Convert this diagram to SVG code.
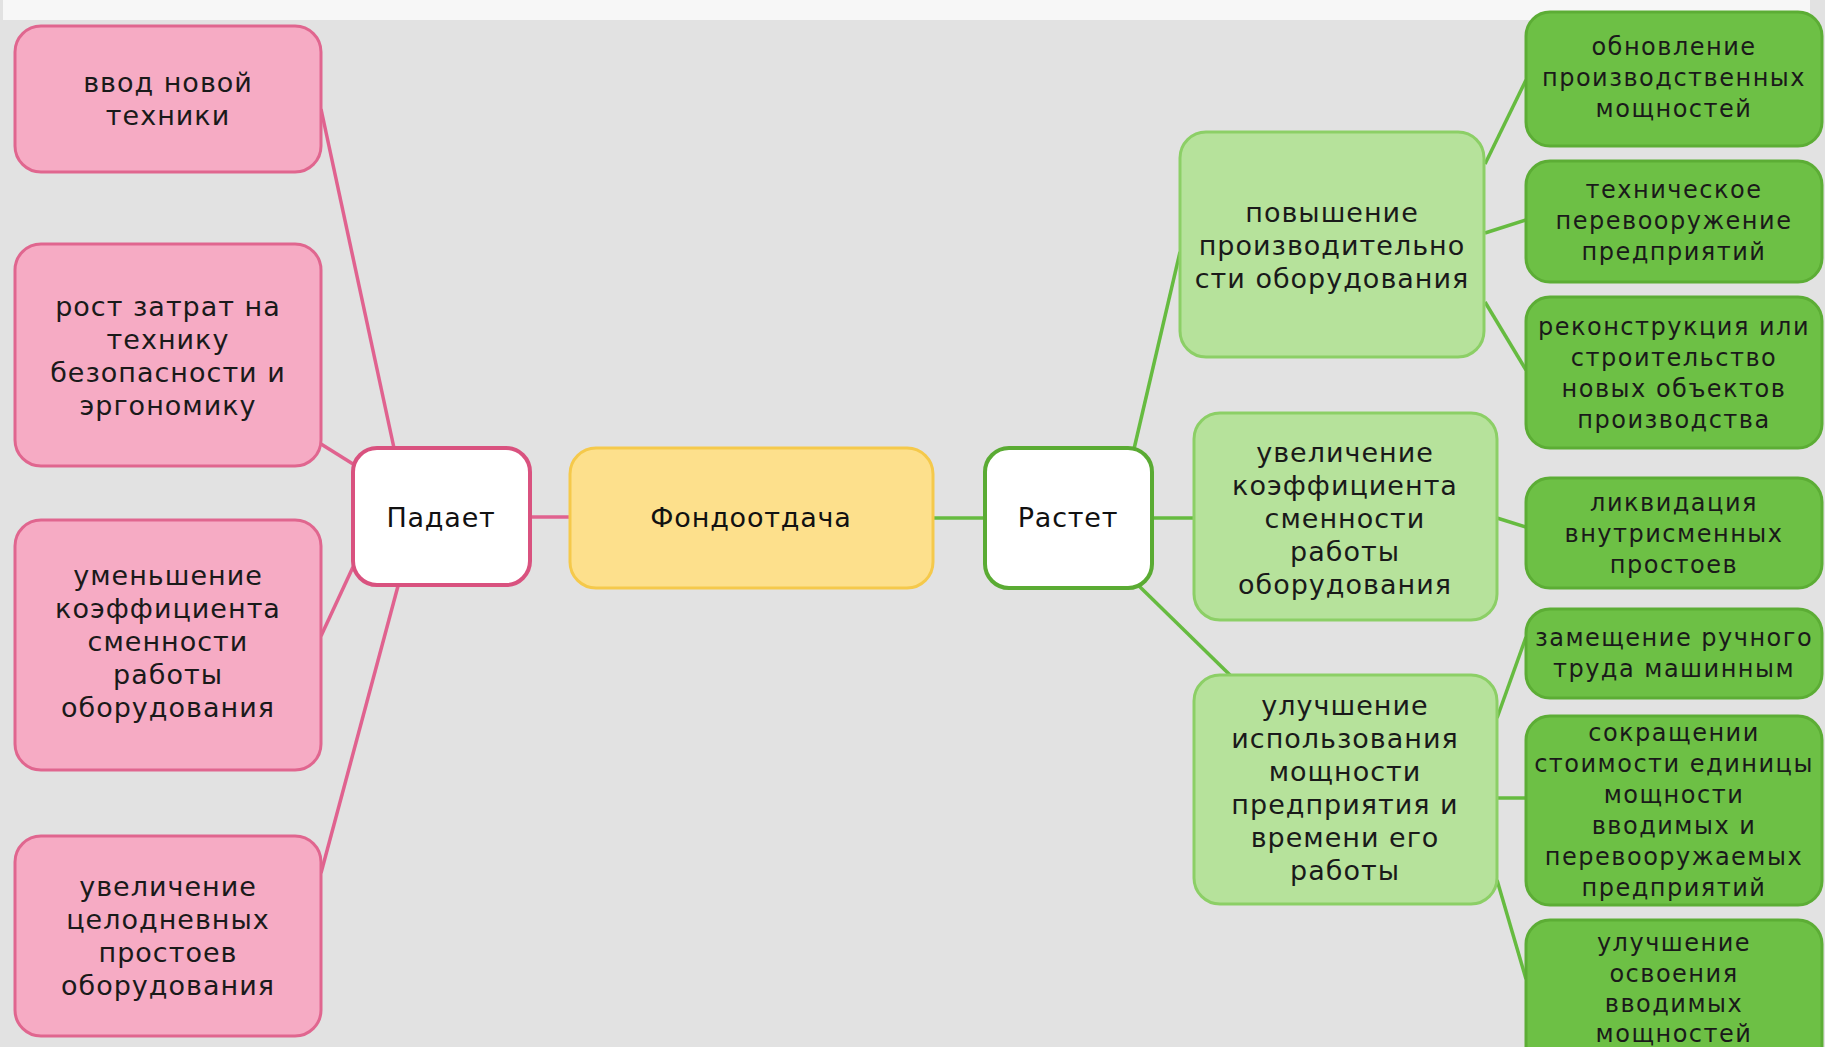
<svg xmlns="http://www.w3.org/2000/svg" width="1825" height="1047" viewBox="0 0 1825 1047">
<style>
text{font-family:"DejaVu Sans","Liberation Sans",sans-serif;fill:#1a1a1a;text-anchor:middle;dominant-baseline:central}
.t{font-size:27px;letter-spacing:1px}
.s{font-size:24px;letter-spacing:1.5px}
.c{font-size:27px;letter-spacing:0.8px;fill:#111}
.pink{fill:#f6abc4;stroke:#e0668f;stroke-width:3}
.padaet{fill:#ffffff;stroke:#d9527f;stroke-width:4}
.fond{fill:#fde08c;stroke:#f5c94b;stroke-width:3}
.rastet{fill:#ffffff;stroke:#5aab33;stroke-width:4}
.mid{fill:#b6e29b;stroke:#8ccf66;stroke-width:3}
.leaf{fill:#6dc045;stroke:#5cad35;stroke-width:3}
.lp{stroke:#e0628f;stroke-width:3.5;fill:none}
.lg{stroke:#66bb40;stroke-width:3.5;fill:none}
</style>
<rect x="0" y="0" width="1825" height="1047" fill="#e2e2e2"/>
<rect x="3" y="0" width="1807" height="20" fill="#f7f7f7"/>
<g id="connectors">
<line class="lp" x1="394" y1="448" x2="321" y2="109"/>
<line class="lp" x1="353" y1="464" x2="321" y2="444"/>
<line class="lp" x1="353" y1="567" x2="321" y2="636"/>
<line class="lp" x1="398" y1="586" x2="321" y2="873"/>
<line class="lp" x1="530" y1="517" x2="570" y2="517"/>
<line class="lg" x1="933" y1="518" x2="985" y2="518"/>
<line class="lg" x1="1134" y1="449" x2="1180" y2="252"/>
<line class="lg" x1="1152" y1="518" x2="1194" y2="518"/>
<line class="lg" x1="1139" y1="586" x2="1230" y2="675"/>
<line class="lg" x1="1485" y1="164" x2="1526" y2="80"/>
<line class="lg" x1="1485" y1="233" x2="1526" y2="220"/>
<line class="lg" x1="1485" y1="302" x2="1526" y2="370"/>
<line class="lg" x1="1497" y1="518" x2="1526" y2="527"/>
<line class="lg" x1="1497" y1="718" x2="1526" y2="637"/>
<line class="lg" x1="1497" y1="798" x2="1526" y2="798"/>
<line class="lg" x1="1497" y1="880" x2="1526" y2="979"/>
</g>
<g id="n1"><rect class="pink" x="15" y="26" width="306" height="146" rx="26"/>
<text class="t" x="168"><tspan x="168" y="82">ввод новой</tspan><tspan x="168" y="115">техники</tspan></text></g>
<g id="n2"><rect class="pink" x="15" y="244" width="306" height="222" rx="26"/>
<text class="t"><tspan x="168" y="306">рост затрат на</tspan><tspan x="168" y="339">технику</tspan><tspan x="168" y="372">безопасности и</tspan><tspan x="168" y="405">эргономику</tspan></text></g>
<g id="n3"><rect class="pink" x="15" y="520" width="306" height="250" rx="26"/>
<text class="t"><tspan x="168" y="575">уменьшение</tspan><tspan x="168" y="608">коэффициента</tspan><tspan x="168" y="641">сменности</tspan><tspan x="168" y="674">работы</tspan><tspan x="168" y="707">оборудования</tspan></text></g>
<g id="n4"><rect class="pink" x="15" y="836" width="306" height="200" rx="26"/>
<text class="t"><tspan x="168" y="886">увеличение</tspan><tspan x="168" y="919">целодневных</tspan><tspan x="168" y="952">простоев</tspan><tspan x="168" y="985">оборудования</tspan></text></g>
<g id="padaet"><rect class="padaet" x="353" y="448" width="177" height="137" rx="24"/>
<text class="c" x="441" y="517">Падает</text></g>
<g id="fond"><rect class="fond" x="570" y="448" width="363" height="140" rx="26"/>
<text class="c" x="751" y="517">Фондоотдача</text></g>
<g id="rastet"><rect class="rastet" x="985" y="448" width="167" height="140" rx="24"/>
<text class="c" x="1068" y="517">Растет</text></g>
<g id="m1"><rect class="mid" x="1180" y="132" width="304" height="225" rx="26"/>
<text class="t"><tspan x="1332" y="212">повышение</tspan><tspan x="1332" y="245">производительно</tspan><tspan x="1332" y="278">сти оборудования</tspan></text></g>
<g id="m2"><rect class="mid" x="1194" y="413" width="303" height="207" rx="26"/>
<text class="t"><tspan x="1345" y="452">увеличение</tspan><tspan x="1345" y="485">коэффициента</tspan><tspan x="1345" y="518">сменности</tspan><tspan x="1345" y="551">работы</tspan><tspan x="1345" y="584">оборудования</tspan></text></g>
<g id="m3"><rect class="mid" x="1194" y="675" width="303" height="229" rx="26"/>
<text class="t"><tspan x="1345" y="705">улучшение</tspan><tspan x="1345" y="738">использования</tspan><tspan x="1345" y="771">мощности</tspan><tspan x="1345" y="804">предприятия и</tspan><tspan x="1345" y="837">времени его</tspan><tspan x="1345" y="870">работы</tspan></text></g>
<g id="r1"><rect class="leaf" x="1526" y="12" width="296" height="134" rx="24"/>
<text class="s"><tspan x="1674" y="47">обновление</tspan><tspan x="1674" y="78">производственных</tspan><tspan x="1674" y="109">мощностей</tspan></text></g>
<g id="r2"><rect class="leaf" x="1526" y="161" width="296" height="121" rx="24"/>
<text class="s"><tspan x="1674" y="190">техническое</tspan><tspan x="1674" y="221">перевооружение</tspan><tspan x="1674" y="252">предприятий</tspan></text></g>
<g id="r3"><rect class="leaf" x="1526" y="297" width="296" height="151" rx="24"/>
<text class="s"><tspan x="1674" y="327">реконструкция или</tspan><tspan x="1674" y="358">строительство</tspan><tspan x="1674" y="389">новых объектов</tspan><tspan x="1674" y="420">производства</tspan></text></g>
<g id="r4"><rect class="leaf" x="1526" y="478" width="296" height="110" rx="24"/>
<text class="s"><tspan x="1674" y="503">ликвидация</tspan><tspan x="1674" y="534">внутрисменных</tspan><tspan x="1674" y="565">простоев</tspan></text></g>
<g id="r5"><rect class="leaf" x="1526" y="609" width="296" height="89" rx="24"/>
<text class="s"><tspan x="1674" y="638">замещение ручного</tspan><tspan x="1674" y="669">труда машинным</tspan></text></g>
<g id="r6"><rect class="leaf" x="1526" y="716" width="296" height="189" rx="24"/>
<text class="s"><tspan x="1674" y="733">сокращении</tspan><tspan x="1674" y="764">стоимости единицы</tspan><tspan x="1674" y="795">мощности</tspan><tspan x="1674" y="826">вводимых и</tspan><tspan x="1674" y="857">перевооружаемых</tspan><tspan x="1674" y="888">предприятий</tspan></text></g>
<g id="r7"><rect class="leaf" x="1526" y="920" width="296" height="150" rx="24"/>
<text class="s"><tspan x="1674" y="943">улучшение</tspan><tspan x="1674" y="974">освоения</tspan><tspan x="1674" y="1004">вводимых</tspan><tspan x="1674" y="1034">мощностей</tspan></text></g>
</svg>
